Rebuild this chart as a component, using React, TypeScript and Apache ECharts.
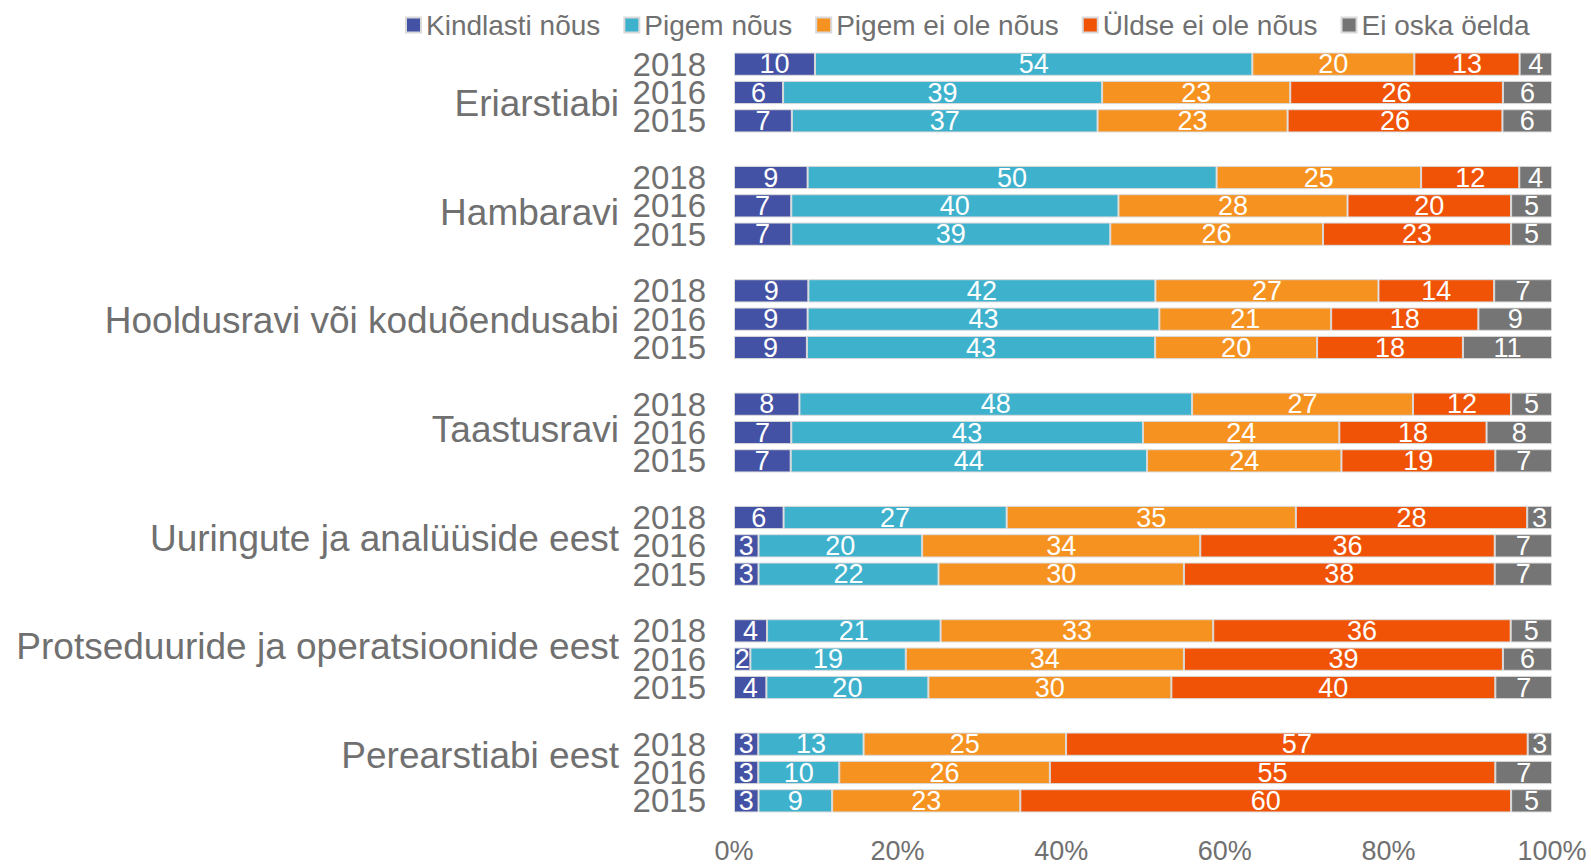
import React, { useEffect, useRef } from "react";
import * as echarts from "echarts";

const groups = [
  "Eriarstiabi",
  "Hambaravi",
  "Hooldusravi või koduõendusabi",
  "Taastusravi",
  "Uuringute ja analüüside eest",
  "Protseduuride ja operatsioonide eest",
  "Perearstiabi eest",
];
const years = ["2018", "2016", "2015"];
const seriesNames = [
  "Kindlasti nõus",
  "Pigem nõus",
  "Pigem ei ole nõus",
  "Üldse ei ole nõus",
  "Ei oska öelda",
];
const colors = ["#4352A5", "#3EB1CD", "#F6921F", "#F05206", "#757575"];

// values in order group-by-group, years 2018, 2016, 2015
const kindlastiNous = [10, 6, 7, 9, 7, 7, 9, 9, 9, 8, 7, 7, 6, 3, 3, 4, 2, 4, 3, 3, 3];
const pigemNous = [54, 39, 37, 50, 40, 39, 42, 43, 43, 48, 43, 44, 27, 20, 22, 21, 19, 20, 13, 10, 9];
const pigemEiOleNous = [20, 23, 23, 25, 28, 26, 27, 21, 20, 27, 24, 24, 35, 34, 30, 33, 34, 30, 25, 26, 23];
const uldseEiOleNous = [13, 26, 26, 12, 20, 23, 14, 18, 18, 12, 18, 19, 28, 36, 38, 36, 39, 40, 57, 55, 60];
const eiOskaOelda = [4, 6, 6, 4, 5, 5, 7, 9, 11, 5, 8, 7, 3, 7, 7, 5, 6, 7, 3, 7, 5];

const xTicks = [0, 20, 40, 60, 80, 100];

const FONT = "'Liberation Sans', Arial, sans-serif";
const GRAY = "#707070";

export default function App() {
  const ref = useRef<HTMLDivElement>(null);

  useEffect(() => {
    document.body.style.margin = "0";
    if (!ref.current) return;
    const chart = echarts.init(ref.current, undefined, { renderer: "svg" });

    const allValues = [kindlastiNous, pigemNous, pigemEiOleNous, uldseEiOleNous, eiOskaOelda];

    // category slots with a blank slot between groups
    const categories: string[] = [];
    const slotIndex: number[] = []; // slot -> data row index or -1
    groups.forEach((g, gi) => {
      years.forEach((y, yi) => {
        categories.push(g + "|" + y);
        slotIndex.push(gi * years.length + yi);
      });
      if (gi < groups.length - 1) {
        categories.push("gap" + gi + "|");
        slotIndex.push(-1);
      }
    });

    const totals = kindlastiNous.map((_, i) =>
      allValues.reduce((s, arr) => s + arr[i], 0)
    );

    const series = seriesNames.map((name, si) => ({
      name,
      type: "bar",
      stack: "total",
      xAxisIndex: 0,
      yAxisIndex: 0,
      barWidth: "82%",
      itemStyle: { color: colors[si], borderColor: "#D9D9D9", borderWidth: 1 },
      label: {
        show: true,
        position: "inside",
        color: "#FFFFFF",
        fontSize: 27,
        fontFamily: FONT,
        formatter: (p: any) => (p.data && p.data.raw != null ? String(p.data.raw) : ""),
      },
      data: slotIndex.map((idx) =>
        idx < 0
          ? "-"
          : { value: (allValues[si][idx] / totals[idx]) * 100, raw: allValues[si][idx] }
      ),
    }));

    const option: any = {
      animation: false,
      textStyle: { fontFamily: FONT },
      color: colors,
      legend: {
        data: seriesNames,
        left: 400,
        top: 6,
        itemWidth: 15,
        itemHeight: 15,
        itemGap: 23,
        icon: "rect",
        textStyle: { color: GRAY, fontSize: 28, fontFamily: FONT },
      },
      grid: [
        { left: 734, right: 39, top: 50, bottom: 46, containLabel: false },
        { left: 734, right: 39, top: 49, bottom: 54, containLabel: false },
      ],
      xAxis: [
        {
          type: "value",
          gridIndex: 0,
          min: xTicks[0],
          max: xTicks[xTicks.length - 1],
          interval: 20,
          axisLine: { show: false },
          axisTick: { show: false },
          splitLine: { show: false },
          axisLabel: {
            color: GRAY,
            fontSize: 27,
            fontFamily: FONT,
            margin: 22,
            formatter: "{value}%",
          },
        },
        {
          type: "value",
          gridIndex: 1,
          min: 0,
          max: 100,
          show: false,
        },
      ],
      yAxis: [
        {
          type: "category",
          gridIndex: 0,
          data: categories,
          inverse: true,
          position: "left",
          axisLine: { show: false },
          axisTick: { show: false },
          axisLabel: {
            color: GRAY,
            fontSize: 33,
            lineHeight: 28,
            fontFamily: FONT,
            margin: 28,
            interval: 0,
            formatter: (v: string) => v.split("|")[1] || "",
          },
        },
        {
          type: "category",
          gridIndex: 1,
          data: groups,
          inverse: true,
          position: "left",
          axisLine: { show: false },
          axisTick: { show: false },
          axisLabel: {
            color: GRAY,
            fontSize: 37,
            fontFamily: FONT,
            margin: 115,
            interval: 0,
          },
        },
      ],
      series,
    };

    chart.setOption(option);
    return () => chart.dispose();
  }, []);

  return <div ref={ref} style={{ width: 1591, height: 864 }} />;
}
